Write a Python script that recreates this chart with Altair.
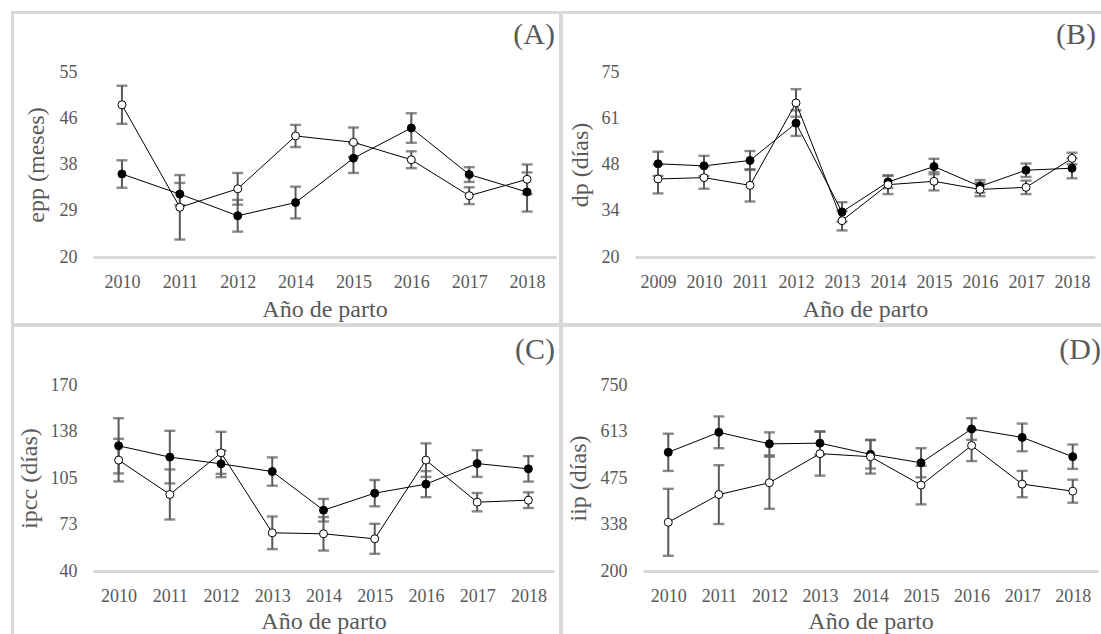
import altair as alt
import pandas as pd

FONT = "Liberation Serif"
TEXT_GRAY = "#595959"
FRAME_GRAY = "#d9d9d9"
BAR_GRAY = "#595959"

# (A) edad al primer parto, meses
anios_a = ["2010", "2011", "2012", "2014", "2015", "2016", "2017", "2018"]
epp_g1 = [35.7, 31.9, 27.8, 30.3, 38.7, 44.4, 35.6, 32.3]
epp_g1_ee = [2.6, 2.1, 3.0, 3.0, 2.8, 2.8, 1.4, 3.7]
epp_g2 = [48.8, 29.4, 32.9, 42.9, 41.7, 38.4, 31.6, 34.7]
epp_g2_ee = [3.6, 6.1, 3.0, 2.1, 2.8, 1.6, 1.6, 2.8]
ticks_a = [20, 28.75, 37.5, 46.25, 55]

# (B) dp, días
anios_b = ["2009", "2010", "2011", "2012", "2013", "2014", "2015", "2016", "2017", "2018"]
dp_g1 = [47.7, 47.1, 48.7, 59.8, 33.4, 42.3, 46.9, 41.0, 45.8, 46.4]
dp_g1_ee = [3.6, 3.0, 2.8, 3.8, 2.9, 1.8, 2.3, 1.9, 2.0, 3.0]
dp_g2 = [43.2, 43.6, 41.3, 65.8, 30.8, 41.5, 42.5, 40.1, 40.7, 49.3]
dp_g2_ee = [4.3, 3.3, 4.8, 4.1, 2.9, 2.8, 2.7, 2.0, 2.0, 1.7]
ticks_b = [20, 33.75, 47.5, 61.25, 75]

# (C) ipcc, días
anios_c = ["2010", "2011", "2012", "2013", "2014", "2015", "2016", "2017", "2018"]
ipcc_g1 = [127.5, 119.6, 114.9, 109.5, 82.5, 94.4, 100.7, 115.1, 111.4]
ipcc_g1_ee = [19.3, 18.4, 9.3, 9.9, 7.9, 9.2, 9.1, 9.3, 8.9]
ipcc_g2 = [117.5, 93.5, 122.6, 66.7, 66.0, 62.5, 117.5, 88.1, 89.5]
ipcc_g2_ee = [14.9, 17.5, 14.7, 11.4, 11.7, 10.5, 11.7, 6.4, 5.5]
ticks_c = [40, 72.5, 105, 137.5, 170]

# (D) iip, días
anios_d = ["2010", "2011", "2012", "2013", "2014", "2015", "2016", "2017", "2018"]
iip_g1 = [551, 610, 576, 578, 545, 520, 620, 595, 538]
iip_g1_ee = [55, 47, 34, 35, 42, 43, 32, 41, 36]
iip_g2 = [344, 426, 461, 547, 538, 454, 571, 457, 436]
iip_g2_ee = [99, 87, 77, 65, 50, 57, 46, 39, 34]
ticks_d = [200, 337.5, 475, 612.5, 750]


def one_row():
    return alt.Data(values=[{"k": 1}])


def panel(anios, g1, g1_ee, g2, g2_ee, domain, ticks, ytitle, letter,
          w, h, cell, lines, letter_xy, ytitle_x, xtitle_y):
    n = len(anios)
    df = pd.DataFrame({
        "anio": anios * 2,
        "grupo": ["g1"] * n + ["g2"] * n,
        "valor": g1 + g2,
        "ee": g1_ee + g2_ee,
    })
    base = alt.Chart(df).transform_calculate(
        lo="datum.valor - datum.ee", hi="datum.valor + datum.ee"
    )
    text_style = dict(
        labelFont=FONT, titleFont=FONT, labelColor=TEXT_GRAY, titleColor=TEXT_GRAY,
        labelFontSize=18, titleFontSize=24, titleFontWeight="normal", zindex=1,
    )
    x_axis = alt.Axis(
        title="Año de parto", labelAngle=0, domainColor=FRAME_GRAY, domainWidth=3,
        ticks=False, labelPadding=16, titleY=xtitle_y, **text_style,
    )
    x = alt.X("anio:O", sort=anios, scale=alt.Scale(type="point", padding=0.5), axis=x_axis)
    y_axis = alt.Axis(
        title=ytitle, values=ticks, format=".0f", domain=False, ticks=False,
        labelPadding=16, titleX=ytitle_x, titleY=h / 2, titleBaseline="middle",
        titleAlign="center", **text_style,
    )
    y_scale = alt.Scale(domain=domain, nice=False, zero=False)

    # cell background and frame edges (left and top of each cell)
    cx1, cx2, cy1, cy2 = cell
    background = alt.Chart(one_row()).mark_rect(fill="white").encode(
        x=alt.value(cx1), x2=alt.value(cx2), y=alt.value(cy1), y2=alt.value(cy2)
    )
    frame = [
        alt.Chart(one_row()).mark_rect(fill=FRAME_GRAY).encode(
            x=alt.value(a), x2=alt.value(b), y=alt.value(c), y2=alt.value(d)
        )
        for (a, b, c, d) in lines
    ]

    bars = base.mark_rule(color=BAR_GRAY, strokeWidth=2).encode(
        x=x, y=alt.Y("lo:Q", scale=y_scale, axis=y_axis), y2="hi:Q"
    )
    caps_lo = base.mark_tick(color=BAR_GRAY, thickness=2.4, size=11).encode(
        x=x, y=alt.Y("lo:Q", scale=y_scale, axis=y_axis)
    )
    caps_hi = base.mark_tick(color=BAR_GRAY, thickness=2.4, size=11).encode(
        x=x, y=alt.Y("hi:Q", scale=y_scale, axis=y_axis)
    )
    lines_g = base.mark_line(color="black", strokeWidth=1).encode(
        x=x, y=alt.Y("valor:Q", scale=y_scale, axis=y_axis), detail="grupo:N"
    )
    pts_g1 = base.transform_filter(alt.datum.grupo == "g1").mark_point(
        filled=True, fill="black", stroke="black", strokeWidth=1, size=64, opacity=1
    ).encode(x=x, y=alt.Y("valor:Q", scale=y_scale, axis=y_axis))
    pts_g2 = base.transform_filter(alt.datum.grupo == "g2").mark_point(
        filled=True, fill="white", stroke="black", strokeWidth=1, size=64, opacity=1
    ).encode(x=x, y=alt.Y("valor:Q", scale=y_scale, axis=y_axis))
    label = alt.Chart(one_row()).mark_text(
        text=letter, font=FONT, fontSize=30, color=TEXT_GRAY,
        align="right", baseline="middle",
    ).encode(x=alt.value(letter_xy[0]), y=alt.value(letter_xy[1]))

    return alt.layer(
        background, *frame, bars, caps_lo, caps_hi, lines_g, pts_g1, pts_g2, label
    ).properties(width=w, height=h)


pa = panel(
    anios_a, epp_g1, epp_g1_ee, epp_g2, epp_g2_ee, [20, 55], ticks_a, "epp (meses)", "(A)",
    463, 185, (-93, 466, -72, 251),
    [(-82, -79, -61, 251), (-82, 466, -61, -58)],
    (462, -37), -57, 40,
)
pb = panel(
    anios_b, dp_g1, dp_g1_ee, dp_g2, dp_g2_ee, [20, 75], ticks_b, "dp (días)", "(B)",
    460, 185, (-76, 466, -72, 251),
    [(-76, -72, -61, 251), (-76, 466, -61, -58)],
    (461, -37), -55, 40,
)
pc = panel(
    anios_c, ipcc_g1, ipcc_g1_ee, ipcc_g2, ipcc_g2_ee, [40, 170], ticks_c, "ipcc (días)", "(C)",
    461, 186, (-93, 466, -62, 249),
    [(-82, -79, -62, 249), (-82, 466, -62, -58)],
    (462, -35), -64, 38,
)
pd_ = panel(
    anios_d, iip_g1, iip_g1_ee, iip_g2, iip_g2_ee, [200, 750], ticks_d, "iip (días)", "(D)",
    455, 186, (-84, 458, -62, 249),
    [(-84, -80, -62, 249), (-84, 458, -62, -58)],
    (458, -35), -65, 38,
)

chart = alt.concat(
    pa, pb, pc, pd_, columns=2, spacing=0, align="none", bounds="full"
).properties(
    padding=0, background="white"
).configure_axis(
    grid=False,
).configure_view(
    strokeWidth=0
)

chart.save("out.html", embed_options={"renderer": "svg", "actions": False})
